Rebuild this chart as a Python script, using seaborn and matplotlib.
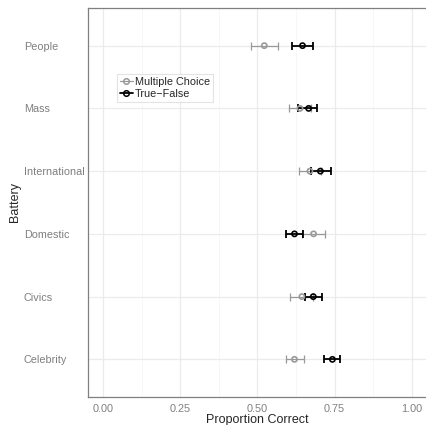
import numpy as np
import pandas as pd
import matplotlib
matplotlib.use("Agg")
import matplotlib.pyplot as plt
from matplotlib.lines import Line2D
from matplotlib.ticker import MultipleLocator
import seaborn as sns

batteries = ["Celebrity", "Civics", "Domestic", "International", "Mass", "People"]
mc_est = [0.620, 0.644, 0.682, 0.670, 0.638, 0.522]
mc_lo  = [0.592, 0.607, 0.645, 0.635, 0.603, 0.478]
mc_hi  = [0.650, 0.680, 0.720, 0.705, 0.672, 0.565]
tf_est = [0.743, 0.681, 0.620, 0.704, 0.666, 0.646]
tf_lo  = [0.717, 0.653, 0.592, 0.672, 0.633, 0.613]
tf_hi  = [0.768, 0.709, 0.647, 0.737, 0.692, 0.679]
x_ticks = [0.00, 0.25, 0.50, 0.75, 1.00]

sns.set_style("white")
plt.rcParams['font.family'] = ['Liberation Sans', 'DejaVu Sans']

df = pd.DataFrame({
    "Battery": batteries * 2,
    "ypos": list(range(1, len(batteries) + 1)) * 2,
    "est": mc_est + tf_est,
    "lo": mc_lo + tf_lo,
    "hi": mc_hi + tf_hi,
    "Format": ["Multiple Choice"] * len(batteries) + ["True\u2212False"] * len(batteries),
})
palette = {"Multiple Choice": "#999999", "True\u2212False": "#000000"}
lw = {"Multiple Choice": 0.9, "True\u2212False": 1.3}

fig = plt.figure(figsize=(4.27, 4.25), dpi=100)
ax = fig.add_axes([88/427, 28/425, 339/427, 389/425])

for fmt in ["Multiple Choice", "True\u2212False"]:
    sub = df[df["Format"] == fmt]
    ax.errorbar(sub["est"], sub["ypos"],
                xerr=[sub["est"] - sub["lo"], sub["hi"] - sub["est"]],
                fmt="none", ecolor=palette[fmt], elinewidth=lw[fmt],
                capsize=2.6, capthick=lw[fmt], zorder=3)

sns.scatterplot(data=df, x="est", y="ypos", hue="Format", palette=palette,
                ax=ax, marker="o", s=14, linewidth=1.2,
                legend=False, zorder=4)
ax.collections[-1].set_facecolor("none")
ax.collections[-1].set_edgecolor([palette[f] for f in df["Format"]])

ax.set_xlim(-0.05, 1.05)
ax.set_ylim(0.4, len(batteries) + 0.6)
ax.set_xticks(x_ticks)
ax.set_xticklabels([f"{v:.2f}" for v in x_ticks])
ax.xaxis.set_minor_locator(MultipleLocator(0.125))
ax.set_yticks(range(1, len(batteries) + 1))
ax.set_yticklabels(batteries)

ax.grid(which="major", color="#ebebeb", linewidth=0.9)
ax.grid(which="minor", axis="x", color="#f4f4f4", linewidth=0.5)
ax.set_axisbelow(True)

for side in ["top", "right", "left", "bottom"]:
    ax.spines[side].set_visible(True)
    ax.spines[side].set_color("#7f7f7f")
    ax.spines[side].set_linewidth(0.9)

ax.tick_params(axis="both", which="major", length=3, width=0.8, color="#333333",
               labelcolor="#7f7f7f", labelsize=7.8)
ax.tick_params(axis="x", pad=2)
ax.tick_params(axis="both", which="minor", length=0)
# left-aligned y tick labels starting at ~24 px
ax.tick_params(axis="y", pad=(88 - 24) * 72 / 100 - 3)
for lab in ax.get_yticklabels():
    lab.set_horizontalalignment("left")

ax.set_xlabel("Proportion Correct", fontsize=9, labelpad=0)
ax.set_ylabel("Battery", fontsize=9, labelpad=2)

handles = [Line2D([0], [0], color=palette[k], marker="o", markerfacecolor="none",
                  markersize=4, markeredgewidth=1.1, linewidth=lw[k], label=k)
           for k in palette]
leg = ax.legend(handles=handles, loc="upper left", bbox_to_anchor=(0.085, 0.83),
                fontsize=7.8, frameon=True, fancybox=False, handlelength=1.2,
                handletextpad=0.2, borderpad=0.25, labelspacing=0.2, borderaxespad=0)
leg.get_frame().set_edgecolor("#dddddd")
leg.get_frame().set_linewidth(0.8)

fig.savefig("out.png", dpi=100)
